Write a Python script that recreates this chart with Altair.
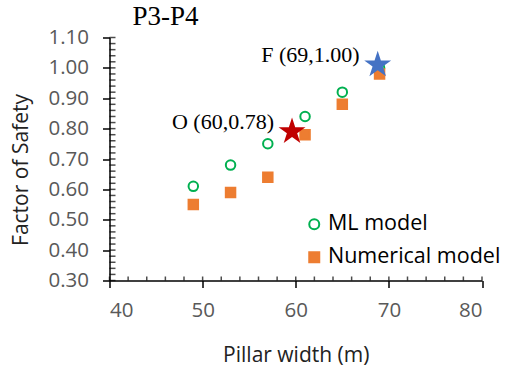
import altair as alt
import pandas as pd

# ---- data ----
widths = [49, 53, 57, 61, 65, 69]
ml_fos = [0.61, 0.68, 0.75, 0.84, 0.92, 1.00]
num_fos = [0.55, 0.59, 0.64, 0.78, 0.88, 0.98]
series_names = ["ML model", "Numerical model"]

star_names = ["O", "F"]
star_x = [59.6, 68.8]
star_y = [0.79, 1.01]
star_labels = ["O (60,0.78)", "F (69,1.00)"]

x_major = [40, 50, 60, 70, 80]
y_major = [0.3, 0.4, 0.5, 0.6, 0.7, 0.8, 0.9, 1.0, 1.1]
x_minor = list(range(40, 81, 2))
y_minor = [round(0.30 + 0.02 * i, 2) for i in range(41)]

pts = pd.DataFrame({
    "w": widths * 2,
    "fos": ml_fos + num_fos,
    "series": [series_names[0]] * len(widths) + [series_names[1]] * len(widths),
})
stars = pd.DataFrame({"name": star_names, "w": star_x, "fos": star_y, "label": star_labels})
xmin_df = pd.DataFrame({"w": x_minor, "fos": [0.3] * len(x_minor)})
ymin_df = pd.DataFrame({"fos": y_minor, "w": [40] * len(y_minor)})

SANS = "Open Sans"
SERIF = "Liberation Serif"
STAR = ("M0,-1L0.2245,-0.309L0.951,-0.309L0.363,0.118L0.588,0.809L0,0.382"
        "L-0.588,0.809L-0.363,0.118L-0.951,-0.309L-0.2245,-0.309Z")

xscale = alt.Scale(domain=[40, 80], nice=False, zero=False)
yscale = alt.Scale(domain=[0.3, 1.1], nice=False, zero=False)

x_axis = alt.Axis(
    values=x_major, orient="bottom", title="Pillar width (m)", grid=False,
    tickSize=7, tickWidth=1.5, tickColor="black", domainColor="black", domainWidth=1.5,
    labelFont=SANS, labelFontSize=20.5, labelColor="#595959", labelPadding=13,
    titleFont=SANS, titleFontSize=21, titleFontWeight="normal", titleColor="#222222",
    titlePadding=23)
y_axis = alt.Axis(
    values=y_major, orient="left", format=".2f", title="Factor of Safety", grid=False,
    tickSize=7, tickWidth=1.5, tickColor="black", domainColor="black", domainWidth=1.5,
    labelFont=SANS, labelFontSize=20.5, labelColor="#595959", labelPadding=14,
    titleFont=SANS, titleFontSize=21, titleFontWeight="normal", titleColor="#222222",
    titleX=-88, titleY=132, titleAngle=270, titleAlign="center", titleBaseline="middle")

X = alt.X("w:Q", scale=xscale, axis=x_axis)
Y = alt.Y("fos:Q", scale=yscale, axis=y_axis)

points = alt.Chart(pts).mark_point(filled=True, strokeWidth=2, size=90, opacity=1).encode(
    x=X, y=Y,
    shape=alt.Shape("series:N", scale=alt.Scale(domain=series_names, range=["circle", "square"])),
    stroke=alt.Stroke("series:N", scale=alt.Scale(domain=series_names, range=["#00B050", "#ED7D31"])),
    fill=alt.Fill("series:N", scale=alt.Scale(domain=series_names, range=["white", "#ED7D31"]),
                  legend=alt.Legend(
                      orient="none", legendX=194, legendY=176, title=None,
                      labelFont=SANS, labelFontSize=21.5, labelColor="black", labelLimit=400,
                      symbolSize=100, symbolStrokeWidth=2, labelOffset=3, rowPadding=10,
                      padding=0)),
)

x_minor_ticks = alt.Chart(xmin_df).mark_tick(
    orient="vertical", size=4, thickness=1.5, color="black", yOffset=-2
).encode(x=X, y=Y)

y_minor_ticks = alt.Chart(ymin_df).mark_tick(
    orient="horizontal", size=6, thickness=1.5, color="black", xOffset=3
).encode(x=X, y=Y)

star_layer = alt.Chart(stars).mark_point(shape=STAR, filled=True, size=800, opacity=1).encode(
    x=X, y=Y,
    color=alt.Color("name:N", scale=alt.Scale(domain=star_names, range=["#C00000", "#4472C4"]), legend=None),
)

text_layer = alt.Chart(stars).mark_text(
    font=SERIF, fontSize=22, align="right", baseline="middle", dx=-18, dy=-10, color="black"
).encode(x=X, y=Y, text="label:N")

chart = alt.layer(points, x_minor_ticks, y_minor_ticks, star_layer, text_layer).properties(
    width=372.5, height=243,
    autosize=alt.AutoSizeParams(type="none"),
    padding={"left": 109.5, "top": 37.5, "right": 23, "bottom": 90.5},
    title=alt.TitleParams("P3-P4", anchor="start", frame="group", dx=23, offset=-3, font=SERIF,
                          fontSize=27, fontWeight="normal", color="black"),
).configure_view(stroke=None)

chart.save("out.html", embed_options={"renderer": "svg", "actions": False})
